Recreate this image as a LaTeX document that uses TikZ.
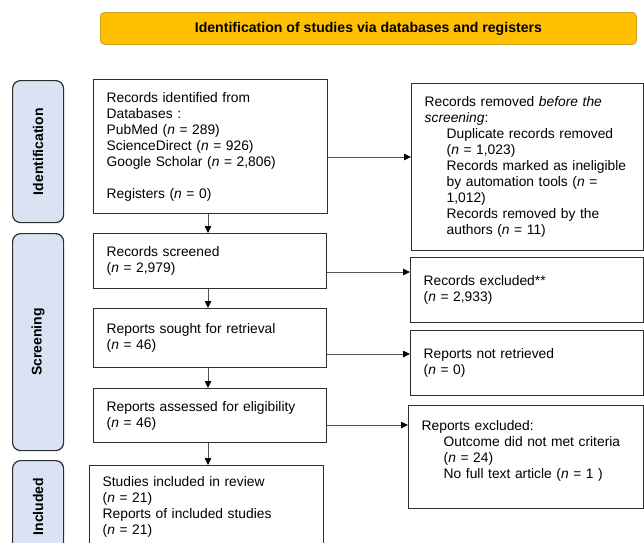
\documentclass[tikz,border=0pt]{standalone}
\usepackage{fontspec}
\setmainfont{Liberation Sans}
\usetikzlibrary{arrows.meta}
\definecolor{bannerfill}{HTML}{FFC000}
\definecolor{bannerline}{HTML}{C9A227}
\definecolor{sidefill}{HTML}{DAE3F3}
\definecolor{boxline}{HTML}{2E2E2E}
\definecolor{arrline}{HTML}{555555}
\tikzset{
  flowbox/.style={draw=boxline, line width=1.4pt, fill=white, anchor=north west, align=left,
    inner xsep=13pt, inner ysep=0pt, font=\fontsize{13.8}{16}\selectfont},
  sidebox/.style={draw=boxline, line width=1.2pt, fill=sidefill, rounded corners=8pt,
    anchor=north west, inner sep=0pt},
  sidelabel/.style={rotate=90, font=\bfseries\fontsize{14}{16}\selectfont},
  bannerbox/.style={draw=bannerline, line width=0.8pt, fill=bannerfill, rounded corners=4pt,
    anchor=north west, inner sep=0pt, font=\bfseries\fontsize{14.1}{16}\selectfont},
  arr/.style={draw=arrline, line width=0.8pt, -{Triangle[length=7pt,width=6.5pt,color=black]}},
}
\newcommand{\nn}{\textit{n}}
\newcommand{\ind}{\hspace*{22pt}}
\begin{document}
\begin{tikzpicture}[x=1pt,y=-1pt]
\useasboundingbox (0,0) rectangle (644,542);
\clip (0,0) rectangle (644,542);
\fill[white] (0,0) rectangle (644,542);

% banner
\node[bannerbox, minimum width=536pt, minimum height=32pt] (banner) at (100,12)
  {Identification of studies via databases and registers};

% side phase boxes
\node[sidebox, minimum width=51pt, minimum height=142pt] (sid) at (12,80) {};
\node[sidelabel] (lid) at (sid.center) {Identification};
\node[sidebox, minimum width=51pt, minimum height=217pt] (sscr) at (12,233) {};
\node[sidelabel] (lscr) at (sscr.center) {Screening};
\node[sidebox, minimum width=51pt, minimum height=92pt] (sinc) at (12,460) {};
\node[sidelabel] (linc) at (sinc.center) {Included};

% main column
\node[flowbox, minimum width=234pt, minimum height=134pt, text width=208pt] (rid) at (93,79)
  {Records identified from\\Databases :\\PubMed (\nn{} = 289)\\ScienceDirect (\nn{} = 926)\\Google Scholar (\nn{} = 2,806)\\[16pt]Registers (\nn{} = 0)};
\node[flowbox, minimum width=233pt, minimum height=55pt, text width=207pt] (rscr) at (93,233)
  {Records screened\\(\nn{} = 2,979)};
\node[flowbox, minimum width=233pt, minimum height=59pt, text width=207pt] (rsought) at (93,308)
  {Reports sought for retrieval\\(\nn{} = 46)};
\node[flowbox, minimum width=233pt, minimum height=54pt, text width=207pt] (rassess) at (93,388)
  {Reports assessed for eligibility\\(\nn{} = 46)};
\node[flowbox, minimum width=234pt, minimum height=82pt, text width=208pt] (sincl) at (89,465)
  {Studies included in review\\(\nn{} = 21)\\Reports of included studies\\(\nn{} = 21)};

% right column
\node[flowbox, minimum width=232pt, minimum height=167pt, text width=206pt] (rrem) at (411,83)
  {Records removed \textit{before the}\\\textit{screening}:\\\ind Duplicate records removed\\\ind(\nn{} = 1,023)\\\ind Records marked as ineligible\\\ind by automation tools (\nn{} =\\\ind 1,012)\\\ind Records removed by the\\\ind authors (\nn{} = 11)};
\node[flowbox, minimum width=233pt, minimum height=65pt, text width=207pt] (rexc) at (410,257)
  {Records excluded**\\(\nn{} = 2,933)};
\node[flowbox, minimum width=233pt, minimum height=65pt, text width=207pt] (rnot) at (410,330)
  {Reports not retrieved\\(\nn{} = 0)};
\node[flowbox, minimum width=235pt, minimum height=103pt, text width=209pt] (repexc) at (408,405)
  {Reports excluded:\\\ind Outcome did not met criteria\\\ind(\nn{} = 24)\\\ind No full text article (\nn{} = 1 )\\\mbox{}};

% helper coordinates
\coordinate (colx) at (208,0);
\coordinate (h1) at (0,157);
\coordinate (h2) at (0,272);
\coordinate (h3) at (0,354);
\coordinate (h4) at (0,425);

% vertical connectors
\draw[arr] (rid.south -| colx) -- (rscr.north -| colx);
\draw[arr] (rscr.south -| colx) -- (rsought.north -| colx);
\draw[arr] (rsought.south -| colx) -- (rassess.north -| colx);
\draw[arr] (rassess.south -| colx) -- (sincl.north -| colx);

% horizontal connectors
\draw[arr] (rid.east |- h1) -- (rrem.west |- h1);
\draw[arr] (rscr.east |- h2) -- (rexc.west |- h2);
\draw[arr] (rsought.east |- h3) -- (rnot.west |- h3);
\draw[arr] (rassess.east |- h4) -- (repexc.west |- h4);
\end{tikzpicture}
\end{document}
